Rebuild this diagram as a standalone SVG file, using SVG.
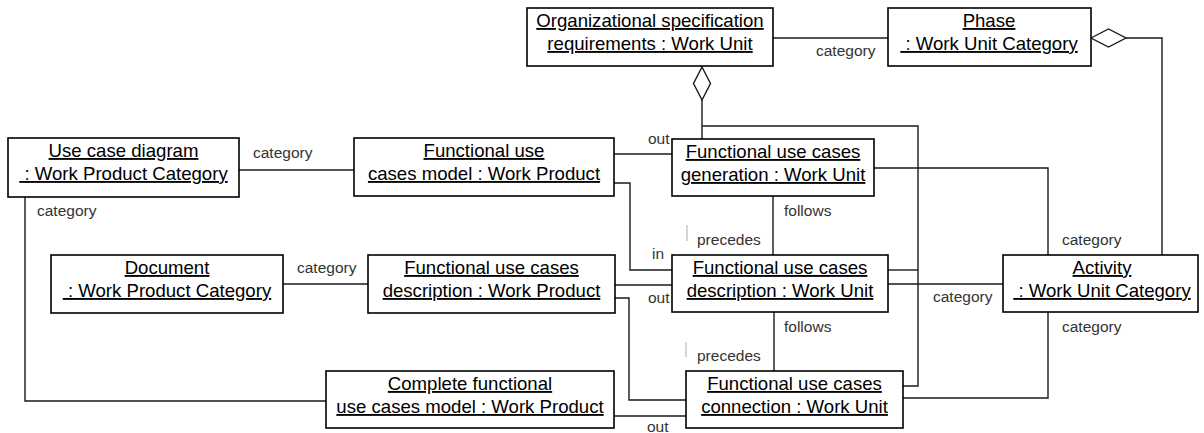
<svg xmlns="http://www.w3.org/2000/svg" width="1204" height="433" viewBox="0 0 1204 433">
<style>
.box{fill:#fff;stroke:#000;stroke-width:1.6}
.t{font-family:"Liberation Sans",Arial,sans-serif;font-size:18.6px;fill:#000;text-anchor:middle;text-decoration:underline}
.lbl{font-family:"Liberation Sans",Arial,sans-serif;font-size:15.5px;fill:#333}
.c{fill:none;stroke:#1a1a1a;stroke-width:1.4}
.dia{fill:#fff;stroke:#1a1a1a;stroke-width:1.4}
.tick{stroke:#bbb;stroke-width:1.2}
</style>
<rect width="1204" height="433" fill="#fff"/>
<g id="connectors">
<path class="c" d="M773,38 H888"/>
<path class="c" d="M1126,38 H1162 V255"/>
<path class="c" d="M702,100 V139"/>
<path class="c" d="M702,126 H918 V386 H903"/>
<path class="c" d="M888,270 H918"/>
<path class="c" d="M239,170 H354"/>
<path class="c" d="M25,197 V401 H326"/>
<path class="c" d="M283,284 H368"/>
<path class="c" d="M614,154 H672"/>
<path class="c" d="M614,183 H630 V270 H672"/>
<path class="c" d="M615,285 H672"/>
<path class="c" d="M615,298 H629 V400 H686"/>
<path class="c" d="M773,196 V255"/>
<path class="c" d="M774,312 V371"/>
<path class="c" d="M874,168 H1048 V255"/>
<path class="c" d="M888,284 H1003"/>
<path class="c" d="M903,398 H1048 V312"/>
<path class="c" d="M614,416 H686"/>
<polygon class="dia" points="1091,38 1108.5,29 1126,38 1108.5,47"/>
<polygon class="dia" points="702,67 710.5,83.5 702,100 693.5,83.5"/>
<line class="tick" x1="687" y1="225" x2="687" y2="241"/>
<line class="tick" x1="686" y1="342" x2="686" y2="357"/>
<text class="lbl" x="816" y="56">category</text>
<text class="lbl" x="253" y="158">category</text>
<text class="lbl" x="37" y="216">category</text>
<text class="lbl" x="297" y="273">category</text>
<text class="lbl" x="648" y="144">out</text>
<text class="lbl" x="652" y="259">in</text>
<text class="lbl" x="784" y="216">follows</text>
<text class="lbl" x="697" y="245">precedes</text>
<text class="lbl" x="648" y="303">out</text>
<text class="lbl" x="933" y="302">category</text>
<text class="lbl" x="1062" y="245">category</text>
<text class="lbl" x="1062" y="332">category</text>
<text class="lbl" x="784" y="332">follows</text>
<text class="lbl" x="697" y="361">precedes</text>
<text class="lbl" x="647" y="432">out</text>
</g>
<g id="org-spec">
<rect class="box" x="527" y="8" width="246" height="58"/>
<text class="t" x="650" y="27">Organizational specification</text>
<text class="t" x="650" y="50">requirements : Work Unit</text>
</g>
<g id="phase">
<rect class="box" x="888" y="8" width="203" height="58"/>
<text class="t" x="989" y="27">Phase</text>
<text class="t" x="989" y="50">&#160;: Work Unit Category</text>
</g>
<g id="use-case-diagram">
<rect class="box" x="8" y="138" width="231" height="59"/>
<text class="t" x="123.5" y="157">Use case diagram</text>
<text class="t" x="123.5" y="180">&#160;: Work Product Category</text>
</g>
<g id="fuc-model">
<rect class="box" x="354" y="138" width="260" height="58"/>
<text class="t" x="484" y="157">Functional use</text>
<text class="t" x="484" y="180">cases model : Work Product</text>
</g>
<g id="fuc-generation">
<rect class="box" x="672" y="139" width="202" height="57"/>
<text class="t" x="773" y="158">Functional use cases</text>
<text class="t" x="773" y="181">generation : Work Unit</text>
</g>
<g id="document">
<rect class="box" x="51" y="255" width="232" height="58"/>
<text class="t" x="167" y="274">Document</text>
<text class="t" x="167" y="297">&#160;: Work Product Category</text>
</g>
<g id="fuc-description-wp">
<rect class="box" x="368" y="255" width="247" height="58"/>
<text class="t" x="491.5" y="274">Functional use cases</text>
<text class="t" x="491.5" y="297">description : Work Product</text>
</g>
<g id="fuc-description-wu">
<rect class="box" x="672" y="255" width="216" height="57"/>
<text class="t" x="780" y="274">Functional use cases</text>
<text class="t" x="780" y="297">description : Work Unit</text>
</g>
<g id="activity">
<rect class="box" x="1003" y="255" width="195" height="57"/>
<text class="t" x="1102" y="274">Activity</text>
<text class="t" x="1102" y="297">&#160;: Work Unit Category</text>
</g>
<g id="complete-model">
<rect class="box" x="326" y="371" width="288" height="57"/>
<text class="t" x="470" y="390">Complete functional</text>
<text class="t" x="470" y="413">use cases model : Work Product</text>
</g>
<g id="fuc-connection">
<rect class="box" x="686" y="371" width="217" height="57"/>
<text class="t" x="794.5" y="390">Functional use cases</text>
<text class="t" x="794.5" y="413">connection : Work Unit</text>
</g>
</svg>
